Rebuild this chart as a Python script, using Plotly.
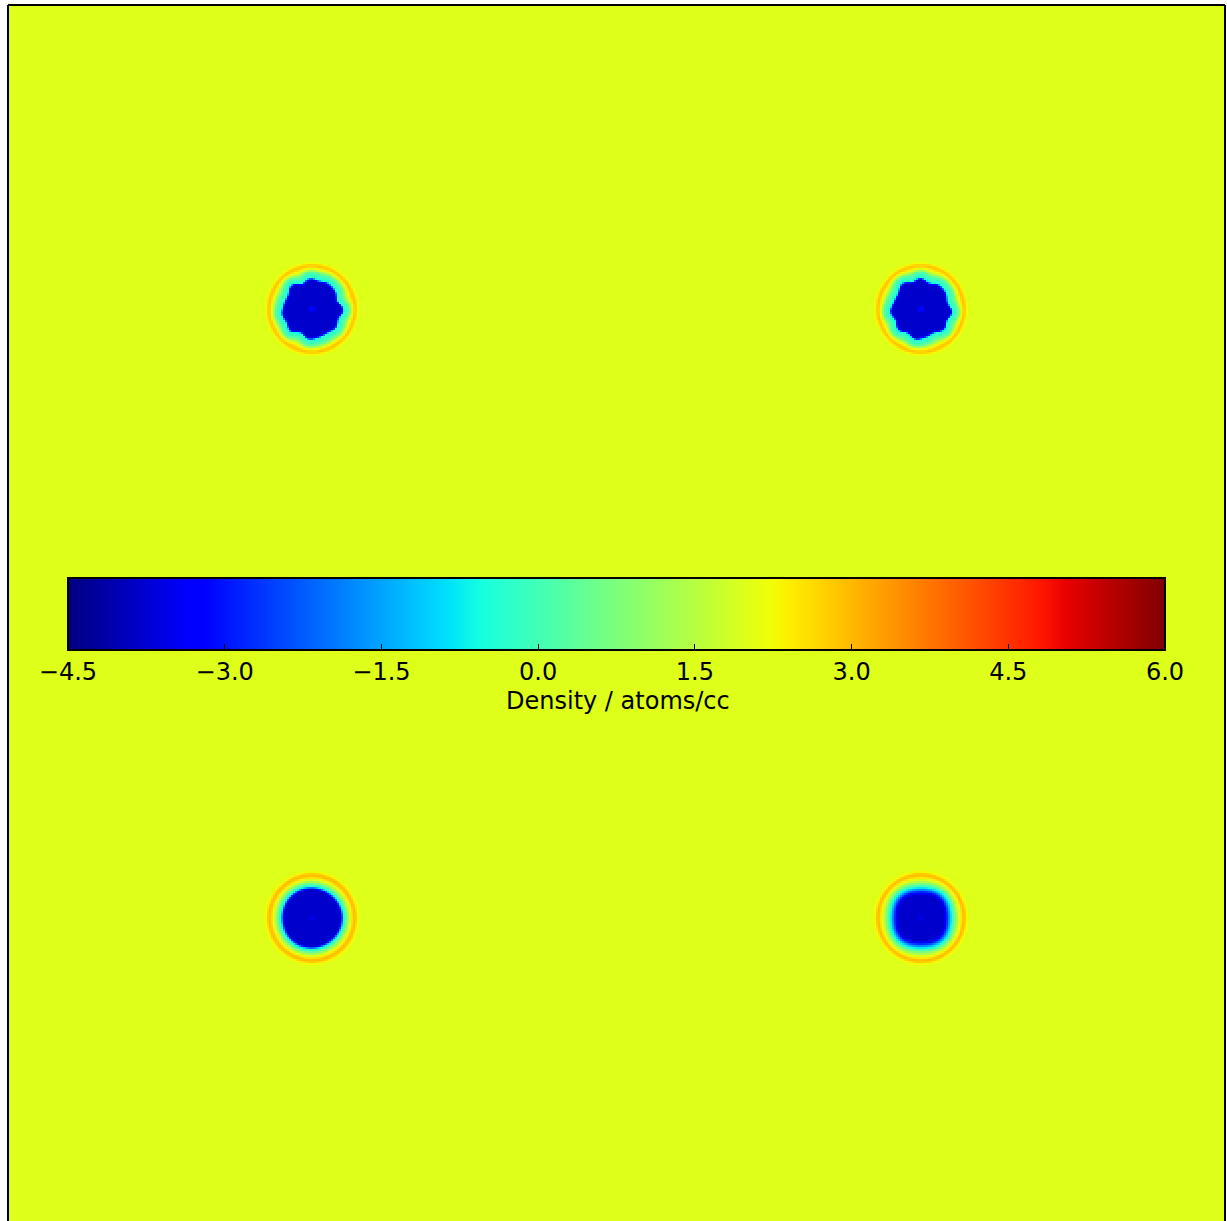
import numpy as np
import plotly.graph_objects as go

# ---------------- data ----------------
# value range of the colour scale
zmin, zmax = -4.5, 6.0
tick_values = [-4.5, -3.0, -1.5, 0.0, 1.5, 3.0, 4.5, 6.0]
tick_labels = ["\u22124.5", "\u22123.0", "\u22121.5", "0.0", "1.5", "3.0", "4.5", "6.0"]
colorbar_title = "Density / atoms/cc"

background_density = 2.0

# void centres (fraction of box)
void_x = [0.25, 0.75, 0.25, 0.75]
void_y = [0.75, 0.75, 0.25, 0.25]

# radial density profiles of each void, radius in box/1217 units
profile_r = [
    [0, 1.5, 2.5, 27.0, 28.5, 30.0, 33.0, 36.0, 38.0, 40.0, 41.5, 42.8, 44.2, 45.8, 47.5],
    [0, 1.5, 2.5, 27.0, 28.5, 30.0, 33.0, 36.0, 38.0, 40.0, 41.5, 42.8, 44.2, 45.8, 47.5],
    [0, 1.5, 2.5, 28.0, 29.5, 31.0, 33.0, 35.0, 37.0, 39.5, 41.2, 42.5, 44.0, 45.8, 48.0],
    [0, 1.5, 2.5, 23.5, 26.0, 28.5, 31.0, 33.5, 36.0, 39.0, 41.5, 42.8, 44.2, 46.0, 48.5],
]
profile_v = [
    [-3.3, -3.3, -3.8, -3.8, -3.0, -0.4, -0.1, 0.4, 1.4, 2.2, 2.6, 2.9, 2.7, 2.3, 2.0],
    [-3.3, -3.3, -3.8, -3.8, -3.0, -0.4, -0.1, 0.4, 1.4, 2.2, 2.6, 2.9, 2.7, 2.3, 2.0],
    [-3.3, -3.3, -3.8, -3.8, -2.8, -0.8, 0.0, 0.8, 1.6, 2.4, 2.8, 3.0, 2.8, 2.3, 2.0],
    [-3.3, -3.3, -3.8, -3.8, -3.2, -2.0, -0.8, 0.2, 1.1, 2.1, 2.7, 3.0, 2.8, 2.3, 2.0],
]
# angular roughness of each void core: (harmonic, amplitude, phase)
core_harmonics = [
    [(8, 1.2, 0.0), (5, 0.8, 1.0), (11, 0.7, 0.4), (3, 0.5, 2.0)],
    [(8, 1.2, 0.3), (5, 0.8, 2.2), (11, 0.7, 1.3), (3, 0.5, 0.7)],
    [(3, 0.3, 0.0)],
    [(4, -0.9, 0.0)],
]

# ---------------- figure ----------------
BOX_PX = 1217.0
CELL = 2.0

# matplotlib "jet" colour scale
bp = [0, 0.11, 0.125, 0.34, 0.35, 0.375, 0.64, 0.65, 0.66, 0.89, 0.91, 1.0]
red = np.interp(bp, [0, 0.35, 0.66, 0.89, 1], [0, 0, 1, 1, 0.5])
grn = np.interp(bp, [0, 0.125, 0.375, 0.64, 0.91, 1], [0, 0, 1, 1, 0, 0])
blu = np.interp(bp, [0, 0.11, 0.34, 0.65, 1], [0.5, 1, 1, 0, 0])
jet = [[p, f"rgb({int(round(r*255))},{int(round(g*255))},{int(round(b*255))})"]
       for p, r, g, b in zip(bp, red, grn, blu)]

FONT = dict(family="DejaVu Sans", size=24, color="black")

fig = go.Figure()

# uniform background field
fig.add_trace(go.Heatmap(
    z=[[background_density, background_density], [background_density, background_density]],
    x=[0, 1], y=[0, 1],
    zmin=zmin, zmax=zmax, colorscale=jet, showscale=True, hoverinfo="skip",
    colorbar=dict(
        orientation="h", x=0.5, xanchor="center",
        y=(1221 - 578) / 1216, yanchor="top",
        len=1097, lenmode="pixels", thickness=72, thicknessmode="pixels",
        xpad=0, ypad=0, outlinewidth=2, outlinecolor="black",
        tickmode="array", tickvals=tick_values, ticktext=tick_labels,
        ticks="inside", ticklen=7, tickwidth=1, tickcolor="black",
        tickfont=FONT,
    ),
))

half = 54
n = int(2 * half / CELL) + 1
offs = np.linspace(-half, half, n)
for cx, cy, pr, pv, harm in zip(void_x, void_y, profile_r, profile_v, core_harmonics):
    DX, DY = np.meshgrid(offs, offs)
    r = np.hypot(DX, DY)
    th = np.arctan2(DY, DX)
    d = np.zeros_like(r)
    for k, a, ph in harm:
        d += a * np.cos(k * th + ph)
    w = np.clip((44.0 - r) / 10.0, 0, 1)
    reff = np.maximum(r - d * w, 0)
    z = np.interp(reff, pr, pv)
    fig.add_trace(go.Heatmap(
        z=np.round(z, 3), x=cx + offs / BOX_PX, y=cy + offs / BOX_PX,
        zmin=zmin, zmax=zmax, colorscale=jet, showscale=False, hoverinfo="skip",
    ))

# ticks on the top edge of the colour bar
cb_left_px, cb_len_px = 68, 1097
cb_top = (1221 - 578) / 1216
shapes = []
for v in tick_values[1:-1]:
    xp = (cb_left_px + (v - zmin) / (zmax - zmin) * cb_len_px - 8) / BOX_PX
    shapes.append(dict(type="line", xref="paper", yref="paper", x0=xp, x1=xp,
                       y0=cb_top, y1=cb_top - 7 / 1216, line=dict(color="black", width=1)))
# frame (left, top, right)
for x0, y0, x1, y1 in [(0, 0, 0, 1), (0, 1, 1, 1), (1, 0, 1, 1)]:
    shapes.append(dict(type="line", xref="paper", yref="paper", x0=x0, y0=y0, x1=x1, y1=y1,
                       line=dict(color="black", width=2)))

fig.update_layout(
    width=1227, height=1221,
    margin=dict(l=8, r=2, t=5, b=0, pad=0),
    paper_bgcolor="white", plot_bgcolor="white",
    xaxis=dict(range=[0, 1], visible=False, showgrid=False, zeroline=False),
    yaxis=dict(range=[1 - 1216 / BOX_PX, 1], visible=False, showgrid=False, zeroline=False),
    shapes=shapes, showlegend=False,
    annotations=[dict(text=colorbar_title, xref="paper", yref="paper",
                      x=(617.5 - 8) / BOX_PX, y=(1221 - 701) / 1216,
                      xanchor="center", yanchor="middle", showarrow=False,
                      borderpad=0, font=FONT)],
)

fig.write_html("out.html")
